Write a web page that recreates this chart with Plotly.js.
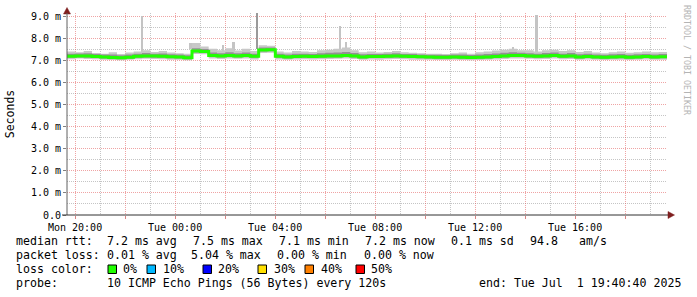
<!DOCTYPE html>
<html>
<head>
<meta charset="utf-8">
<script src="https://cdn.plot.ly/plotly-3.0.1.min.js"></script>
<style>
  html, body { margin: 0; padding: 0; background: #ffffff; }
  #chart { width: 697px; height: 297px; }
</style>
</head>
<body>
<div id="chart"></div>
<script>
// ---------------- DATA ----------------
// samples every 20 minutes, Mon Jun 30 2025 19:40:40 -> Tue Jul 1 2025 19:40:40 (values in ms)
const medianRtt = [7.18,7.20,7.20,7.17,7.15,7.13,7.12,7.14,7.18,7.20,7.19,7.18,7.16,7.15,7.12,7.42,7.40,7.22,7.20,7.22,7.20,7.22,7.18,7.47,7.48,7.18,7.15,7.17,7.18,7.17,7.18,7.20,7.20,7.22,7.20,7.15,7.17,7.17,7.18,7.20,7.18,7.17,7.16,7.15,7.14,7.14,7.15,7.14,7.13,7.14,7.15,7.17,7.20,7.22,7.22,7.20,7.18,7.20,7.22,7.18,7.20,7.15,7.17,7.15,7.14,7.15,7.16,7.14,7.15,7.17,7.15,7.16,7.17];
const pingMax   = [7.40,7.36,7.42,7.33,7.30,7.36,7.28,7.35,7.40,7.45,7.38,7.42,7.35,7.32,7.30,7.78,7.62,7.52,7.45,7.55,7.44,7.52,7.42,7.68,7.66,7.40,7.35,7.42,7.40,7.38,7.45,7.48,7.52,7.58,7.45,7.36,7.40,7.35,7.38,7.42,7.36,7.34,7.32,7.30,7.30,7.28,7.32,7.35,7.30,7.36,7.40,7.44,7.48,7.52,7.46,7.45,7.40,7.46,7.48,7.42,7.45,7.38,7.42,7.35,7.32,7.36,7.40,7.34,7.36,7.40,7.36,7.38,7.35];
const pingMin   = [7.05,7.08,7.06,7.05,7.02,7.01,7.00,7.02,7.05,7.07,7.06,7.05,7.03,7.02,7.00,7.28,7.27,7.08,7.06,7.08,7.07,7.08,7.04,7.33,7.34,7.04,7.02,7.04,7.05,7.04,7.05,7.06,7.07,7.08,7.06,7.02,7.04,7.03,7.05,7.06,7.05,7.03,7.02,7.02,7.01,7.01,7.02,7.01,7.00,7.01,7.02,7.04,7.06,7.08,7.08,7.07,7.05,7.06,7.08,7.05,7.06,7.02,7.04,7.02,7.01,7.02,7.03,7.01,7.02,7.04,7.02,7.03,7.04];
const pingQ3    = [7.30,7.31,7.32,7.28,7.26,7.26,7.23,7.26,7.30,7.33,7.30,7.31,7.27,7.26,7.23,7.55,7.51,7.35,7.32,7.36,7.32,7.35,7.30,7.58,7.58,7.30,7.26,7.30,7.30,7.28,7.32,7.34,7.35,7.38,7.33,7.27,7.29,7.28,7.30,7.32,7.29,7.28,7.26,7.25,7.25,7.24,7.26,7.26,7.24,7.26,7.28,7.31,7.34,7.36,7.34,7.32,7.30,7.33,7.35,7.30,7.33,7.27,7.30,7.26,7.25,7.27,7.28,7.25,7.27,7.29,7.26,7.28,7.28];
const pingQ1    = [7.11,7.13,7.12,7.10,7.08,7.06,7.05,7.07,7.11,7.13,7.12,7.11,7.09,7.08,7.05,7.35,7.33,7.15,7.13,7.15,7.13,7.15,7.11,7.40,7.41,7.11,7.08,7.10,7.11,7.10,7.11,7.13,7.13,7.15,7.13,7.08,7.10,7.10,7.11,7.13,7.11,7.10,7.09,7.08,7.07,7.07,7.08,7.07,7.06,7.07,7.08,7.10,7.13,7.15,7.15,7.13,7.11,7.13,7.15,7.11,7.13,7.08,7.10,7.08,7.07,7.08,7.09,7.07,7.08,7.10,7.08,7.09,7.10];

// single-probe spikes: hours after start, bottom and top (ms)
const spikeHours = [3.00, 4.94, 6.24, 6.66, 10.92, 11.16, 17.84, 18.78];
const spikeLow   = [7.30, 7.50, 7.30, 7.30, 7.30, 7.30, 7.30, 7.30];
const spikeHigh  = [9.00, 7.78, 7.70, 7.83, 8.55, 7.84, 7.60, 9.05];
const darkSpikeHours = [7.60];
const darkSpikeLow   = [7.50];
const darkSpikeHigh  = [9.12];

// tick labels
const xTickLabels = ['Mon 20:00','','Tue 00:00','','Tue 04:00','','Tue 08:00','','Tue 12:00','','Tue 16:00',''];
const yTickValues = [0,1,2,3,4,5,6,7,8,9];
const yTickLabels = ['0.0','1.0 m','2.0 m','3.0 m','4.0 m','5.0 m','6.0 m','7.0 m','8.0 m','9.0 m'];

// legend texts
const rttTitle   = 'median rtt:';
const rttStats   = ['7.2 ms avg','7.5 ms max','7.1 ms min','7.2 ms now','0.1 ms sd','94.8','am/s'];
const lossTitle  = 'packet loss:';
const lossStats  = ['0.01 % avg','5.04 % max','0.00 % min','0.00 % now'];
const colorTitle = 'loss color:';
const lossLabels = ['0%','10%','20%','30%','40%','50%'];
const probeTitle = 'probe:';
const probeText  = '10 ICMP Echo Pings (56 Bytes) every 120s';
const endText    = 'end: Tue Jul  1 19:40:40 2025';
const yTitle     = 'Seconds';
const watermark  = 'RRDTOOL / TOBI OETIKER';

// ---------------- STYLE / LAYOUT ----------------
const lossColors = ['#20ff00','#00b8ff','#0000ff','#ffe000','#ff8000','#ff0000'];
const HOUR = 3600000;
const start = Date.UTC(2025,5,30,19,40,40);
const end = start + 24*HOUR;
const step = 20*60000;
const times = medianRtt.map((_, i) => start + i*step);
const toTime = h => start + h*HOUR;

const firstEven = Date.UTC(2025,5,30,20,0,0);
const majorX = xTickLabels.map((_, i) => firstEven + i*2*HOUR);
const minorX = xTickLabels.map((_, i) => firstEven + (i*2+1)*HOUR);
const minorY = [0.5,1.5,2.5,3.5,4.5,5.5,6.5,7.5,8.5];

const L = 67, R = 667, T = 13, B = 215;
const px = p => (p - L)/(R - L);
const py = p => (B - p)/(B - T);

const MONO = 'DejaVu Sans Mono';
const majorGrid = 'rgba(225,90,90,0.55)';
const minorGrid = 'rgba(150,150,150,0.55)';

const traces = [
  {x: times, y: pingMin, type:'scatter', mode:'lines', line:{width:0, shape:'hv', color:'#c8c8c8'}, hoverinfo:'skip', showlegend:false},
  {x: times, y: pingMax, type:'scatter', mode:'lines', line:{width:0, shape:'hv', color:'#c8c8c8'}, fill:'tonexty', fillcolor:'#c8c8c8', hoverinfo:'skip', showlegend:false},
  {x: times, y: pingQ1, type:'scatter', mode:'lines', line:{width:0, shape:'hv', color:'#8e8e8e'}, hoverinfo:'skip', showlegend:false},
  {x: times, y: pingQ3, type:'scatter', mode:'lines', line:{width:0, shape:'hv', color:'#8e8e8e'}, fill:'tonexty', fillcolor:'#929292', hoverinfo:'skip', showlegend:false},
  {x: spikeHours.map(toTime), base: spikeLow, y: spikeHigh.map((v,i)=>v - spikeLow[i]), type:'bar', width: 5*60000,
   marker:{color:'#c4c4c4', line:{width:0}}, hoverinfo:'skip', showlegend:false},
  {x: darkSpikeHours.map(toTime), base: darkSpikeLow, y: darkSpikeHigh.map((v,i)=>v - darkSpikeLow[i]), type:'bar', width: 5*60000,
   marker:{color:'#9a9a9a', line:{width:0}}, hoverinfo:'skip', showlegend:false},
  {x: times, y: medianRtt, type:'scatter', mode:'lines', line:{width:3, shape:'hv', color: lossColors[0]}, hoverinfo:'skip', showlegend:false}
];

const annotations = [];
function txt(s, xpx, ypx, opts) {
  annotations.push(Object.assign({
    text: s, xref:'paper', yref:'paper', x: px(xpx), y: py(ypx),
    xanchor:'left', yanchor:'middle', showarrow:false, borderpad:0, borderwidth:0,
    font:{family: MONO, size: 11.6, color:'#000000'}
  }, opts || {}));
}
const line1 = 241, line2 = 255, line3 = 269, line4 = 283;
txt(rttTitle, 16, line1);
[107, 193, 279, 365, 451, 530, 579].forEach((x, i) => txt(rttStats[i], x, line1));
txt(lossTitle, 16, line2);
[107, 191, 277, 364].forEach((x, i) => txt(lossStats[i], x, line2));
txt(colorTitle, 16, line3);
const boxX = [108, 147, 203, 258, 305, 356];
const labX = [123, 163, 218, 274, 321, 371];
lossLabels.forEach((s, i) => txt(s, labX[i], line3));
txt(probeTitle, 16, line4);
txt(probeText, 107, line4);
txt(endText, 479, line4);
txt(watermark, 687, 60, {xanchor:'center', textangle:90, font:{family: MONO, size: 8.3, color:'#b4b4b4'}});

const shapes = [];
boxX.forEach((x, i) => shapes.push({
  type:'rect', xref:'paper', yref:'paper', x0: px(x), x1: px(x+8.5), y0: py(273.5), y1: py(265),
  fillcolor: lossColors[i], line:{color:'#000000', width:1}
}));
// axis lines and arrows
shapes.push({type:'path', xref:'paper', yref:'paper',
  path: `M ${px(63.5)} ${py(14)} L ${px(67)} ${py(7.5)} L ${px(70.5)} ${py(14)} Z`,
  fillcolor:'#7f1f1f', line:{color:'#7f1f1f', width:0.5}});
shapes.push({type:'line', xref:'paper', yref:'paper', x0: px(67), x1: px(67), y0: py(215), y1: py(13),
  line:{color:'#606060', width:1}});
shapes.push({type:'line', xref:'paper', yref:'paper', x0: px(62), x1: px(668), y0: py(215), y1: py(215),
  line:{color:'#303030', width:1}});
shapes.push({type:'path', xref:'paper', yref:'paper',
  path: `M ${px(668)} ${py(211.5)} L ${px(674.5)} ${py(215)} L ${px(668)} ${py(218.5)} Z`,
  fillcolor:'#7f1f1f', line:{color:'#7f1f1f', width:0.5}});

const layout = {
  width: 697, height: 297,
  margin: {l: L, r: 697 - R, t: T, b: 297 - B, pad: 0},
  paper_bgcolor: '#ffffff', plot_bgcolor: '#ffffff',
  showlegend: false, barmode: 'overlay', bargap: 0,
  font: {family: MONO, size: 10, color:'#000000'},
  xaxis: {
    type: 'date', range: [start, end], fixedrange: true,
    tickmode: 'array', tickvals: majorX, ticktext: xTickLabels,
    ticks: 'outside', ticklen: 3, tickcolor: 'rgba(200,80,80,0.7)', tickwidth: 1,
    tickfont: {family: MONO, size: 10, color:'#000000'},
    showgrid: true, gridcolor: majorGrid, griddash: '1px,1px', gridwidth: 1,
    minor: {tickmode:'array', tickvals: minorX, showgrid: true, gridcolor: minorGrid, griddash:'1px,1px', gridwidth:1, ticks:''},
    showline: false, zeroline: false
  },
  yaxis: {
    range: [0, 9.14], fixedrange: true,
    tickmode: 'array', tickvals: yTickValues, ticktext: yTickLabels,
    ticks: 'outside', ticklen: 3, tickcolor: '#808080', tickwidth: 1,
    tickfont: {family: MONO, size: 10, color:'#000000'},
    showgrid: true, gridcolor: majorGrid, griddash: '1px,1px', gridwidth: 1,
    minor: {tickmode:'array', tickvals: minorY, showgrid: true, gridcolor: minorGrid, griddash:'1px,1px', gridwidth:1, ticks:''},
    showline: false, zeroline: false,
    title: {text: yTitle, font: {family: MONO, size: 11.5, color:'#000000'}, standoff: 13}
  },
  annotations: annotations,
  shapes: shapes
};

Plotly.newPlot('chart', traces, layout, {staticPlot: true, displayModeBar: false});
</script>
</body>
</html>
